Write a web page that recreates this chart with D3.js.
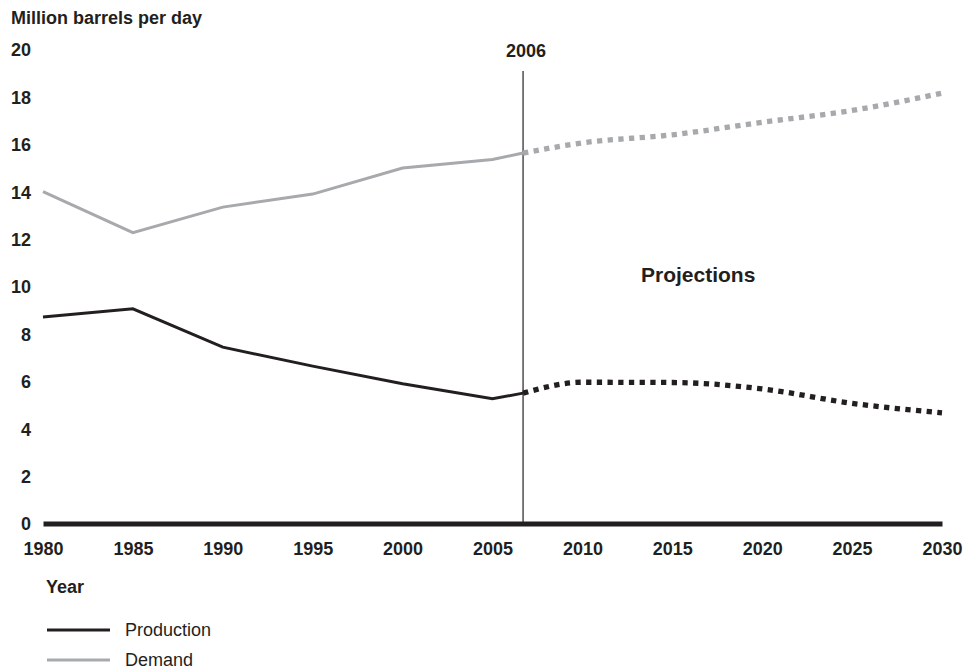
<!DOCTYPE html>
<html>
<head>
<meta charset="utf-8">
<script src="https://cdn.jsdelivr.net/npm/d3@7"></script>
<style>
  html, body { margin: 0; padding: 0; background: #fff; }
  svg { display: block; font-family: "Liberation Sans", Arial, Helvetica, sans-serif; }
</style>
</head>
<body>
<svg id="chart" width="980" height="671"></svg>
<script>
// ---- data ----
const histYears       = [1980, 1985, 1990, 1995, 2000, 2005, 2006.7];
const histProduction  = [8.71, 9.06, 7.44, 6.64, 5.90, 5.26, 5.50];
const histDemand      = [14.0, 12.27, 13.35, 13.9, 15.0, 15.36, 15.63];
const projYears       = [2006.7, 2010, 2015, 2020, 2025, 2030];
const projProduction  = [5.50, 5.96, 5.95, 5.68, 5.07, 4.67];
const projDemand      = [15.63, 16.06, 16.4, 16.93, 17.43, 18.16];
const xTicks          = [1980, 1985, 1990, 1995, 2000, 2005, 2010, 2015, 2020, 2025, 2030];
const yTicks          = [0, 2, 4, 6, 8, 10, 12, 14, 16, 18, 20];
const splitYear       = 2006.7;
const splitLabel      = "2006";
const seriesNames     = ["Production", "Demand"];
const seriesColors    = ["#231f20", "#a7a9ac"];

// ---- layout ----
const svg = d3.select("#chart");
const x = d3.scaleLinear().domain([1980, 2030]).range([43, 942]);
const y = d3.scaleLinear().domain([0, 20]).range([523.5, 49.5]);
const FS = 18;

// y axis labels
const yAxis = d3.axisLeft(y).tickValues(yTicks).tickSize(0).tickPadding(0).tickFormat(d3.format("d"));
const gy = svg.append("g").attr("transform", "translate(31,0)").call(yAxis);
gy.select(".domain").remove();
gy.selectAll("text")
  .attr("fill", "#231f20").attr("font-size", FS).attr("font-weight", "bold")
  .attr("font-family", "Liberation Sans, Arial, sans-serif").attr("dy", "0.36em");

// y title
svg.append("text").attr("x", 11).attr("y", 24)
  .attr("font-size", FS).attr("font-weight", "bold").attr("fill", "#231f20")
  .text("Million barrels per day");

// vertical split line
svg.append("line")
  .attr("x1", x(splitYear)).attr("x2", x(splitYear))
  .attr("y1", 71).attr("y2", y(0))
  .attr("stroke", "#333").attr("stroke-width", 1.3);
svg.append("text").attr("x", x(splitYear) + 3).attr("y", 56.5)
  .attr("text-anchor", "middle").attr("font-size", FS).attr("font-weight", "bold").attr("fill", "#231f20")
  .text(splitLabel);

// lines
const histLine = d3.line().x(d => x(d[0])).y(d => y(d[1]));
const projLine = d3.line().x(d => x(d[0])).y(d => y(d[1])).curve(d3.curveMonotoneX);

const histSeries = [histProduction, histDemand];
const projSeries = [projProduction, projDemand];

[1, 0].forEach(i => {
  svg.append("path")
    .datum(histYears.map((yr, k) => [yr, histSeries[i][k]]))
    .attr("d", histLine)
    .attr("fill", "none").attr("stroke", seriesColors[i]).attr("stroke-width", 3)
    .attr("stroke-linejoin", "miter");
  svg.append("path")
    .datum(projYears.map((yr, k) => [yr, projSeries[i][k]]))
    .attr("d", projLine)
    .attr("fill", "none").attr("stroke", seriesColors[i]).attr("stroke-width", 5.3)
    .attr("stroke-dasharray", "5.3,5.4");
});

// x axis
const xAxis = d3.axisBottom(x).tickValues(xTicks).tickSize(0).tickSizeOuter(0).tickPadding(0).tickFormat(d3.format("d"));
const gx = svg.append("g").attr("transform", `translate(0,${y(0)})`).call(xAxis);
gx.select(".domain").attr("stroke", "#231f20").attr("stroke-width", 5);
gx.selectAll("text")
  .attr("fill", "#231f20").attr("font-size", FS).attr("font-weight", "bold")
  .attr("font-family", "Liberation Sans, Arial, sans-serif")
  .attr("y", 31).attr("dy", 0);

// x title
svg.append("text").attr("x", 46).attr("y", 593)
  .attr("font-size", FS).attr("font-weight", "bold").attr("fill", "#231f20")
  .text("Year");

// projections label
svg.append("text").attr("x", 641).attr("y", 282)
  .attr("font-size", 21).attr("font-weight", "bold").attr("fill", "#231f20")
  .text("Projections");

// legend
const legend = svg.append("g");
seriesNames.forEach((name, i) => {
  const ly = 630 + i * 30;
  legend.append("line").attr("x1", 47).attr("x2", 110).attr("y1", ly).attr("y2", ly)
    .attr("stroke", seriesColors[i]).attr("stroke-width", 3);
  legend.append("text").attr("x", 125).attr("y", ly + 5.5)
    .attr("font-size", FS).attr("fill", "#231f20")
    .text(name);
});
</script>
</body>
</html>
